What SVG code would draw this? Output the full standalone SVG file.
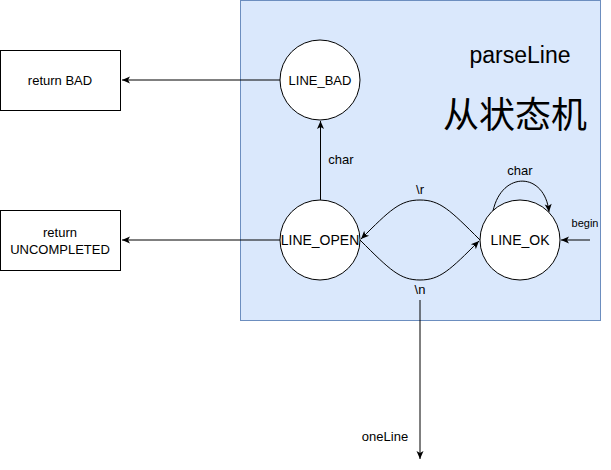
<svg xmlns="http://www.w3.org/2000/svg" width="611" height="470" viewBox="0 0 611 470">
<style>
text{font-family:"Liberation Sans",Arial,sans-serif;fill:#000;text-anchor:middle}
.s{font-size:13px}
.m{font-size:14px}
.node{fill:#fff;stroke:#000;stroke-width:1}
.edge{fill:none;stroke:#000;stroke-width:1}
</style>
<defs>
<marker id="arr" markerUnits="userSpaceOnUse" markerWidth="10" markerHeight="10" viewBox="0 0 10 10" refX="9" refY="5" orient="auto">
<path d="M1,1.5 L9,5 L1,8.5 L3,5 Z" fill="#000"/>
</marker>
</defs>
<g id="container">
<rect x="240.5" y="0.5" width="360" height="320" fill="#dae8fc" stroke="#6c8ebf"/>
<text x="520" y="63" style="font-size:23px">parseLine</text>
<text x="515" y="128" style="font-size:36px;font-family:'Noto Sans CJK SC',sans-serif">从状态机</text>
</g>
<g id="connectors">
<path class="edge" d="M280,80 L122,80" marker-end="url(#arr)"/>
<path class="edge" d="M280,240 L122,240" marker-end="url(#arr)"/>
<path class="edge" d="M320.5,200 L320.5,121" marker-end="url(#arr)"/>
<text class="s" x="341" y="164">char</text>
<path class="edge" d="M480,240 C450,210 440,200 420,200 C400,200 390,210 361,239" marker-end="url(#arr)"/>
<text class="s" x="420" y="194">\r</text>
<path class="edge" d="M360,240 C390,270 400,280 420,280 C440,280 450,270 479,241" marker-end="url(#arr)"/>
<text class="s" x="420" y="294">\n</text>
<path class="edge" d="M493,211 C502,170 545,172 549,212" marker-end="url(#arr)"/>
<text class="s" x="520" y="175">char</text>
<path class="edge" d="M590,240 L561,240" marker-end="url(#arr)"/>
<text x="585" y="227" style="font-size:11px">begin</text>
<path class="edge" d="M420,300 L420,459" marker-end="url(#arr)"/>
<text class="s" x="385" y="441">oneLine</text>
</g>
<g id="return_bad">
<rect x="0.5" y="50.5" width="120" height="60" class="node"/>
<text class="s" x="60" y="85">return BAD</text>
</g>
<g id="return_uncompleted">
<rect x="0.5" y="210.5" width="120" height="60" class="node"/>
<text class="s" x="60" y="237">return</text>
<text class="s" x="60" y="254">UNCOMPLETED</text>
</g>
<g id="line_bad">
<circle cx="320" cy="80" r="40" class="node"/>
<text class="s" x="320" y="85">LINE_BAD</text>
</g>
<g id="line_open">
<circle cx="320" cy="240" r="40" class="node"/>
<text class="m" x="320" y="245">LINE_OPEN</text>
</g>
<g id="line_ok">
<circle cx="520" cy="240" r="40" class="node"/>
<text class="m" x="520" y="245">LINE_OK</text>
</g>
</svg>
